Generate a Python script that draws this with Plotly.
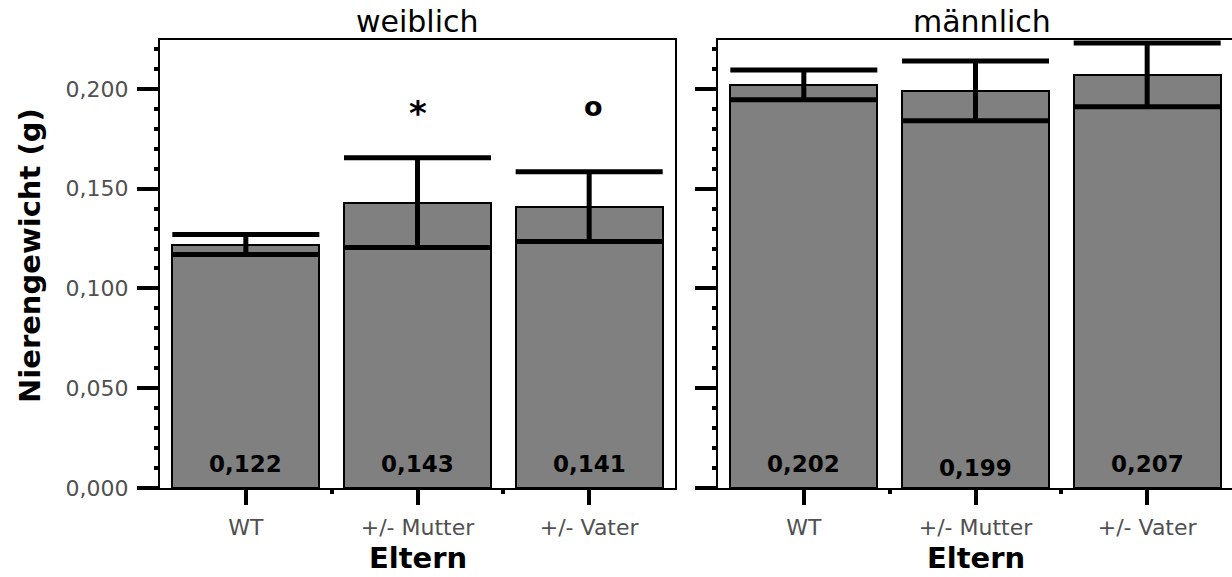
import plotly.graph_objects as go

# ---- data ----
categories = ["WT", "+/- Mutter", "+/- Vater"]
weiblich_mean = [0.122, 0.143, 0.141]
weiblich_err = [0.005, 0.0225, 0.0175]
maennlich_mean = [0.202, 0.199, 0.207]
maennlich_err = [0.0075, 0.015, 0.016]
significance_weiblich = ["", "*", "o"]
panel_titles = ["weiblich", "männlich"]
y_title = "Nierengewicht (g)"
x_title = "Eltern"

W, H = 1232, 577
xpos = list(range(len(categories)))

def fmt(v):
    return f"{v:.3f}".replace(".", ",")

fig = go.Figure()

bar_style = dict(marker=dict(color="#808080", line=dict(color="black", width=2)),
                 width=0.855, showlegend=False)
err_style = dict(type="data", visible=True, color="black", thickness=5, width=73.5)

fig.add_trace(go.Bar(x=xpos, y=weiblich_mean, xaxis="x", yaxis="y",
                     error_y=dict(array=weiblich_err, **err_style), **bar_style))
fig.add_trace(go.Bar(x=xpos, y=maennlich_mean, xaxis="x2", yaxis="y2",
                     error_y=dict(array=maennlich_err, **err_style), **bar_style))

# geometry (pixels)
top_px, bot_px = 40, 488
x1_l, x1_r = 160, 675
x2_l, x2_r = 718, 1233
px_per_cat = (x1_r - x1_l) / 3.0
ydom = [(H - bot_px) / H, (H - top_px) / H]
ymax = 0.2245

tickfont = dict(family="DejaVu Sans", size=22, color="#505050")

common_y = dict(range=[0, ymax], domain=ydom, showline=True, linecolor="black", linewidth=2,
                ticks="outside", ticklen=21, tickwidth=4, tickcolor="black",
                tick0=0, dtick=0.05, tickformat=".3f", showgrid=False, zeroline=False,
                minor=dict(dtick=0.01, tick0=0, ticks="outside", ticklen=4, tickwidth=4,
                           tickcolor="black", showgrid=False),
                tickfont=tickfont, ticklabelstandoff=4, automargin=False)

common_x = dict(showline=True, linecolor="black", linewidth=2, mirror=True,
                tickmode="array", tickvals=xpos, ticktext=categories,
                ticks="outside", ticklen=15, tickwidth=4, tickcolor="black",
                minor=dict(tickmode="array", tickvals=[0.5, 1.5], ticks="outside",
                           ticklen=4, tickwidth=4, tickcolor="black", showgrid=False),
                showgrid=False, zeroline=False, tickfont=tickfont, ticklabelstandoff=4,
                automargin=False)

fig.update_layout(
    width=W, height=H, autosize=False,
    margin=dict(l=0, r=0, t=0, b=0, pad=0),
    paper_bgcolor="white", plot_bgcolor="white",
    separators=",.",
    bargap=0,
    xaxis=dict(domain=[x1_l / W, x1_r / W], range=[-0.5, 2.5], anchor="y", **common_x),
    xaxis2=dict(domain=[x2_l / W, 1.0], range=[-0.5, 2.5 - (x2_r - W) / px_per_cat],
                anchor="y2", **common_x),
    yaxis=dict(anchor="x", mirror=True, showticklabels=True, **common_y),
    yaxis2=dict(anchor="x2", mirror=False, showticklabels=False, **common_y),
)

ann = []
# panel titles
for txt, cx in ((panel_titles[0], 417.5), (panel_titles[1], 982)):
    ann.append(dict(text=txt, x=cx / W, y=(H - 21) / H, xref="paper", yref="paper",
                    showarrow=False, font=dict(family="DejaVu Sans", size=30, color="black"),
                    xanchor="center", yanchor="middle"))
# y title
ann.append(dict(text=y_title, x=30 / W, y=(H - 256) / H, xref="paper", yref="paper",
                textangle=-90, showarrow=False,
                font=dict(family="DejaVu Sans", size=29, color="black", weight="bold"),
                xanchor="center", yanchor="middle"))
# x titles
for cx in (418, 976):
    ann.append(dict(text=x_title, x=cx / W, y=(H - 558) / H, xref="paper", yref="paper",
                    showarrow=False,
                    font=dict(family="DejaVu Sans", size=29, color="black", weight="bold"),
                    xanchor="center", yanchor="middle"))
# value labels inside bars
for xr, yr, vals in (("x", "y", weiblich_mean), ("x2", "y2", maennlich_mean)):
    for i, v in enumerate(vals):
        shift = -4 if fmt(v) == "0,199" else 0
        ann.append(dict(text=fmt(v), x=i, y=0.012, xref=xr, yref=yr, yshift=shift,
                        showarrow=False,
                        font=dict(family="DejaVu Sans", size=23, color="black", weight="bold"),
                        xanchor="center", yanchor="middle"))
# significance markers
for i, s in enumerate(significance_weiblich):
    if s == "*":
        ann.append(dict(text=s, x=i, y=0.191, xref="x", yref="y", showarrow=False, yshift=-6,
                        font=dict(family="DejaVu Sans", size=34, color="black", weight="bold"),
                        xanchor="center", yanchor="middle"))
    elif s:
        ann.append(dict(text=s, x=i, y=0.191, xref="x", yref="y", showarrow=False, xshift=4,
                        font=dict(family="DejaVu Sans", size=27, color="black", weight="bold"),
                        xanchor="center", yanchor="middle"))

fig.update_layout(annotations=ann)
fig.write_html("out.html")
